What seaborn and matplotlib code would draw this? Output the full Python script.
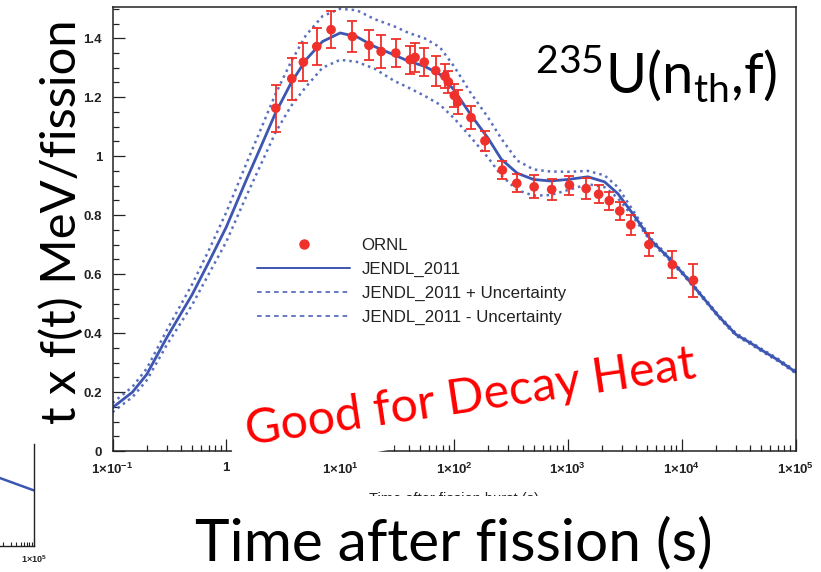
import numpy as np
import pandas as pd
import seaborn as sns
import matplotlib
matplotlib.use("Agg")
import matplotlib.pyplot as plt
import matplotlib.ticker as mticker
from matplotlib.lines import Line2D
from matplotlib.patches import Rectangle
from matplotlib.transforms import Affine2D, IdentityTransform

# ---------------- data ----------------
ornl_time = [2.72, 3.76, 4.75, 6.23, 8.32, 12.8, 17.9, 22.9, 30.8, 41.1, 45.5, 54.8,
             69.1, 83.4, 89.1, 100.6, 107.8, 141, 187, 266, 356, 506, 721, 1033,
             1449, 1863, 2312, 2858, 3575, 5152, 8280, 12700]
ornl_value = [1.163, 1.263, 1.319, 1.372, 1.429, 1.406, 1.376, 1.355, 1.350, 1.327, 1.335, 1.319,
              1.290, 1.271, 1.252, 1.206, 1.184, 1.131, 1.052, 0.953, 0.908, 0.896, 0.887, 0.902,
              0.890, 0.871, 0.849, 0.814, 0.767, 0.700, 0.632, 0.579]
ornl_error = [0.080, 0.071, 0.064, 0.062, 0.062, 0.054, 0.051, 0.055, 0.047, 0.047, 0.048, 0.047,
              0.051, 0.041, 0.038, 0.040, 0.042, 0.040, 0.034, 0.032, 0.030, 0.039, 0.035, 0.032,
              0.035, 0.031, 0.031, 0.031, 0.033, 0.038, 0.046, 0.055]

jendl_time = [0.1, 0.15, 0.2, 0.3, 0.5, 0.7, 1, 1.5, 2, 2.7, 3.7, 5, 7, 10, 14, 20, 30, 40, 55, 75,
              100, 140, 200, 260, 360, 500, 700, 1000, 1500, 2100, 2750, 3900, 5400, 7600, 10700,
              15000, 21000, 30000, 40000, 50000, 70000, 100000]
jendl_value = [0.147, 0.20, 0.26, 0.385, 0.53, 0.64, 0.76, 0.92, 1.03, 1.146, 1.248, 1.327, 1.389,
               1.418, 1.405, 1.372, 1.343, 1.322, 1.305, 1.278, 1.225, 1.141, 1.06, 0.99, 0.942,
               0.921, 0.916, 0.921, 0.930, 0.913, 0.873, 0.794, 0.714, 0.657, 0.594, 0.526, 0.458,
               0.395, 0.367, 0.343, 0.309, 0.268]
jendl_upper = [0.163, 0.218, 0.28, 0.41, 0.565, 0.68, 0.81, 0.975, 1.09, 1.21, 1.32, 1.41, 1.475,
               1.50, 1.495, 1.465, 1.44, 1.418, 1.40, 1.37, 1.305, 1.215, 1.13, 1.06, 0.985,
               0.955, 0.948, 0.947, 0.950, 0.935, 0.895, 0.805, 0.72, 0.662, 0.598, 0.53, 0.462,
               0.399, 0.371, 0.347, 0.313, 0.272]
jendl_lower = [0.132, 0.183, 0.24, 0.36, 0.495, 0.60, 0.71, 0.865, 0.97, 1.08, 1.17, 1.235, 1.30,
               1.327, 1.32, 1.297, 1.255, 1.232, 1.205, 1.175, 1.129, 1.065, 0.994, 0.935, 0.885,
               0.866, 0.868, 0.885, 0.905, 0.895, 0.858, 0.785, 0.708, 0.652, 0.59, 0.522, 0.454,
               0.391, 0.363, 0.339, 0.305, 0.264]

mini_time = [1e4, 3e4, 1e5]
mini_value = [1.05, 0.94, 0.82]

x_tick_values = [1e-1, 1, 1e1, 1e2, 1e3, 1e4, 1e5]
x_tick_labels = [r"$\mathsf{1{\times}10^{-1}}$", r"$\mathsf{1}$", r"$\mathsf{1{\times}10^{1}}$",
                 r"$\mathsf{1{\times}10^{2}}$", r"$\mathsf{1{\times}10^{3}}$",
                 r"$\mathsf{1{\times}10^{4}}$", r"$\mathsf{1{\times}10^{5}}$"]
y_tick_values = [0, 0.2, 0.4, 0.6, 0.8, 1.0, 1.2, 1.4]
y_tick_labels = ["0", "0.2", "0.4", "0.6", "0.8", "1", "1.2", "1.4"]
legend_labels = ["ORNL", "JENDL_2011", "JENDL_2011 + Uncertainty", "JENDL_2011 - Uncertainty"]

# ---------------- style ----------------
sns.set_theme(style="ticks")
plt.rcParams["font.family"] = ["Liberation Sans", "DejaVu Sans"]
plt.rcParams["mathtext.fontset"] = "custom"
plt.rcParams["mathtext.rm"] = "Lato"
plt.rcParams["mathtext.it"] = "Lato"
plt.rcParams["mathtext.bf"] = "Lato:bold"
plt.rcParams["mathtext.sf"] = "Liberation Sans:bold"

BLUE = "#3d56b2"
RED = "#f0302a"
INK = "#222222"
W, H = 821, 572

fig = plt.figure(figsize=(W / 100, H / 100), dpi=100)
fig.patch.set_facecolor("white")

ax = fig.add_axes([112.5 / W, 1 - 451 / H, 683 / W, 444 / H])
ax.set_xscale("log")
ax.set_xlim(0.1, 1e5)
ax.set_ylim(0, 1.506)

dotted = (0, (1.0, 1.6))
sns.lineplot(x=jendl_time, y=jendl_upper, ax=ax, color=BLUE, lw=1.8, linestyle=dotted,
             estimator=None, sort=False, legend=False, alpha=0.85)
sns.lineplot(x=jendl_time, y=jendl_lower, ax=ax, color=BLUE, lw=1.8, linestyle=dotted,
             estimator=None, sort=False, legend=False, alpha=0.85)
sns.lineplot(x=jendl_time, y=jendl_value, ax=ax, color=BLUE, lw=2.0,
             estimator=None, sort=False, legend=False)

ax.errorbar(ornl_time, ornl_value, yerr=ornl_error, fmt="none", ecolor=RED,
            elinewidth=1.3, capsize=3.6, capthick=1.3, zorder=3)
sns.scatterplot(x=ornl_time, y=ornl_value, ax=ax, color=RED, s=48, edgecolor="none",
                zorder=4, legend=False)

ax.set_xticks(x_tick_values)
ax.set_xticklabels(x_tick_labels)
ax.xaxis.set_minor_locator(mticker.LogLocator(base=10, subs=np.arange(2, 10), numticks=30))
ax.xaxis.set_minor_formatter(mticker.NullFormatter())
ax.set_yticks(y_tick_values)
ax.set_yticklabels(y_tick_labels)
ax.yaxis.set_minor_locator(mticker.MultipleLocator(0.05))

ax.tick_params(which="both", direction="in", top=False, right=False, colors=INK,
               width=0.9, labelcolor=INK)
ax.tick_params(which="major", length=8.4, labelsize=9.5, pad=7.5)
ax.tick_params(which="minor", length=4.6)
for lab in ax.get_xticklabels() + ax.get_yticklabels():
    lab.set_fontweight("bold")
for sp in ax.spines.values():
    sp.set_visible(True)
    sp.set_linewidth(1.1)
    sp.set_color(INK)

ax.set_xlabel("Time after fission burst (s)", fontsize=10.5, labelpad=11, color=INK)
ax.set_ylabel("")

handles = [
    Line2D([], [], ls="none", marker="o", color=RED, ms=6.5),
    Line2D([], [], color=BLUE, lw=1.4),
    Line2D([], [], color=BLUE, lw=1.1, ls=(0, (3, 2.6))),
    Line2D([], [], color=BLUE, lw=1.1, ls=(0, (3, 2.6))),
]
leg = ax.legend(handles, legend_labels, loc="upper left",
                bbox_to_anchor=((257 - 112.5) / 683, (451 - 238) / 444),
                frameon=False, fontsize=12.2, handlelength=5.5, handletextpad=0.68,
                labelspacing=0.52, borderpad=0, borderaxespad=0)
for t in leg.get_texts():
    t.set_color(INK)

# ---------------- partial neighbouring panel (left edge) ----------------
ax2 = fig.add_axes([-224.5 / W, 1 - 546 / H, 258 / W, 102 / H])
ax2.set_xscale("log")
ax2.set_xlim(0.1, 1e5)
ax2.set_ylim(0, 1.5)
sns.lineplot(x=mini_time, y=mini_value, ax=ax2, color=BLUE, lw=1.8, estimator=None,
             sort=False, legend=False)
ax2.set_xticks([1e5])
ax2.set_xticklabels([r"$\mathsf{1{\times}10^{5}}$"])
ax2.xaxis.set_minor_locator(mticker.LogLocator(base=10, subs=np.arange(2, 10), numticks=30))
ax2.xaxis.set_minor_formatter(mticker.NullFormatter())
ax2.set_yticks([])
ax2.tick_params(which="both", direction="in", colors=INK, width=0.8)
ax2.tick_params(which="major", length=5, labelsize=6.5, pad=5)
ax2.tick_params(which="minor", length=3)
ax2.spines["top"].set_visible(False)
for k in ("right", "bottom", "left"):
    ax2.spines[k].set_visible(True)
    ax2.spines[k].set_color(INK)
    ax2.spines[k].set_linewidth(1.0)
ax2.set_xlabel("")
ax2.set_ylabel("")

# ---------------- white masks (slide overlay boxes) ----------------
mask_good = Rectangle((0, 0), 160, 48, facecolor="white", edgecolor="none", zorder=2,
                      transform=Affine2D().rotate_deg(10.5).translate(237, H - 478))
fig.add_artist(mask_good)
mask_bottom = Rectangle((150, 0), 640, H - 496, facecolor="white", edgecolor="none",
                        zorder=2, transform=IdentityTransform())
fig.add_artist(mask_bottom)

# ---------------- slide texts ----------------
renderer = fig.canvas.get_renderer()


def fit(txt, target, use_height=False):
    bb = txt.get_window_extent(renderer)
    cur = bb.height if use_height else bb.width
    txt.set_fontsize(txt.get_fontsize() * target / cur)


big_x = fig.text(453.5 / W, 1 - 560 / H, "Time after fission (s)", ha="center",
                 va="baseline", family="Lato", fontsize=40, color="black", zorder=5)
fit(big_x, 517)

big_y = fig.text(76 / W, 1 - 222 / H, "t x f(t) MeV/fission", rotation=90,
                 rotation_mode="anchor", ha="center", va="baseline", family="Lato",
                 fontsize=38, color="black", zorder=5)
fit(big_y, 405, use_height=True)

title = fig.text(777 / W, 1 - 93 / H, r"$^{235}$U(n$_{\rm th}$,f)", ha="right",
                 va="baseline", family="Lato", fontsize=38, color="black", zorder=5)
fit(title, 242)

good = fig.text(248 / W, 1 - 445 / H, "Good for Decay Heat", rotation=0,
                rotation_mode="anchor", ha="left", va="baseline", family="Lato",
                fontsize=36, color="#ff0000", zorder=6)
fit(good, 455)
good.set_rotation(8.5)

fig.savefig("out.png", dpi=100, facecolor="white")
